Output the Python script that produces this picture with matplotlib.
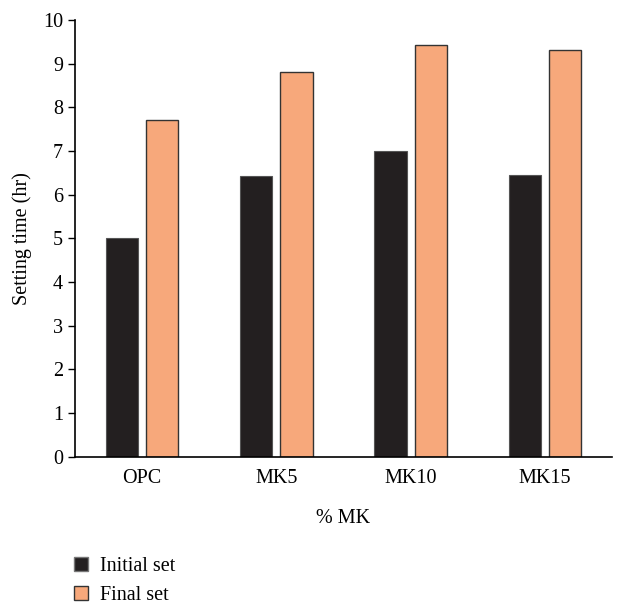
import matplotlib.pyplot as plt
import numpy as np
from matplotlib.patches import Patch

categories = ["OPC", "MK5", "MK10", "MK15"]
initial_set = [5.0, 6.43, 7.0, 6.46]
final_set = [7.7, 8.82, 9.43, 9.32]
yticks = list(range(0, 11))

plt.rcParams['font.family'] = ['Liberation Serif', 'DejaVu Serif']

fig = plt.figure(figsize=(6.17, 6.07), dpi=100)
ax = fig.add_axes([0.1216, 0.2476, 0.8704, 0.7194])

x = np.arange(len(categories))
w = 0.24
ax.bar(x - 0.15, initial_set, w, color="#231f20", edgecolor="#555555", linewidth=0.8)
ax.bar(x + 0.15, final_set, w, color="#f7a87b", edgecolor="#333333", linewidth=1.0)

ax.set_xlim(-0.5, len(categories) - 0.5)
ax.set_ylim(0, 10)
ax.set_yticks(yticks)
ax.set_xticks(x)
ax.set_xticklabels(categories)
ax.tick_params(axis="x", length=0, labelsize=14.5, pad=9)
ax.tick_params(axis="y", length=5, width=1, labelsize=14.5, direction="out")
for s in ["top", "right"]:
    ax.spines[s].set_visible(False)
ax.spines["left"].set_linewidth(1.2)
ax.spines["bottom"].set_linewidth(1.2)
ax.set_xlabel("% MK", fontsize=14.5, labelpad=15)
ax.set_ylabel("Setting time (hr)", fontsize=14.5, labelpad=8)

handles = [Patch(facecolor="#231f20", edgecolor="#777777", label="Initial set"),
           Patch(facecolor="#f7a87b", edgecolor="#333333", label="Final set")]
fig.legend(handles=handles, loc="lower left", bbox_to_anchor=(0.09, -0.027),
           frameon=False, fontsize=14.5, handlelength=0.7, handleheight=0.7,
           handletextpad=0.6, labelspacing=0.5)

fig.savefig("out.png", dpi=100)
